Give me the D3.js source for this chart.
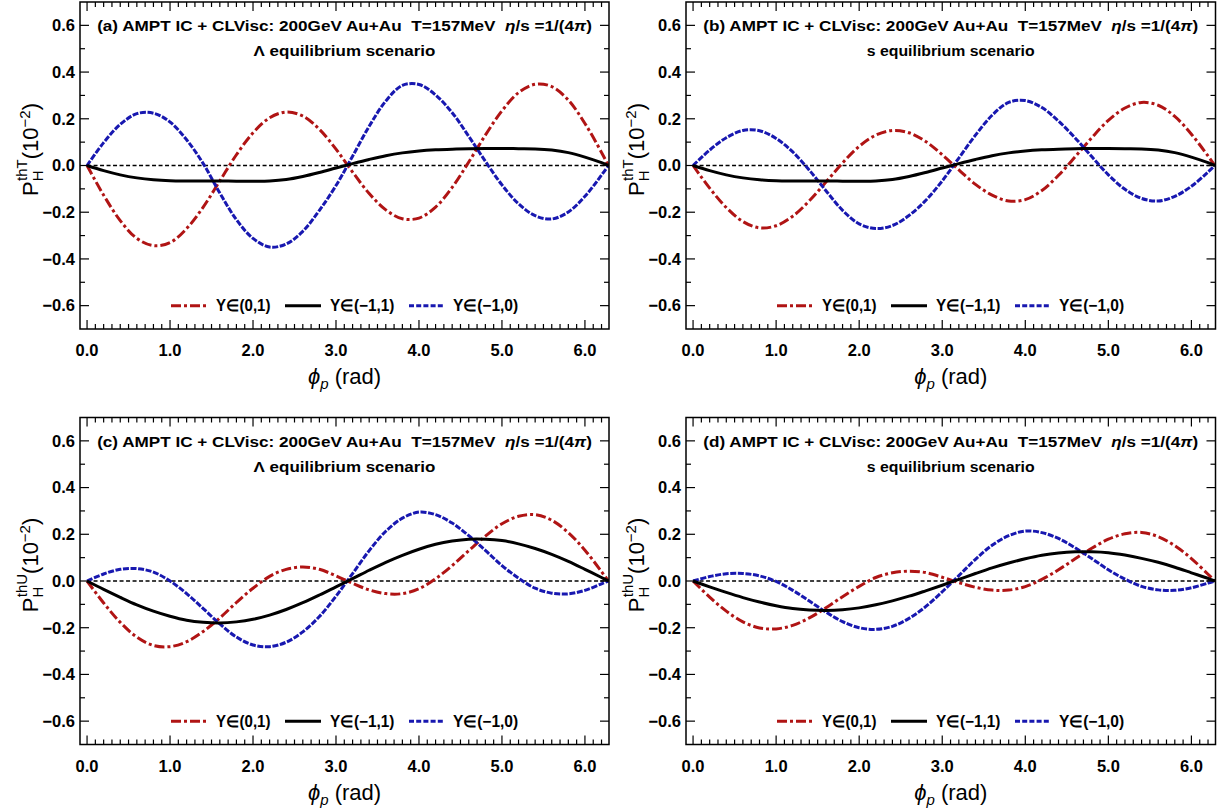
<!DOCTYPE html>
<html><head><meta charset="utf-8">
<script src="https://cdn.jsdelivr.net/npm/d3@7"></script>
<style>
body{margin:0;background:#fff;}
text{font-family:"Liberation Sans",Arial,sans-serif;}
</style></head>
<body><svg id="c" width="1225" height="809"></svg>
<script>
// ---------- data ----------
const phiGrid = [0,0.2,0.4,0.6,0.8,1.0,1.2,1.4,1.6,1.8,2.0,2.2,2.4,2.6,2.8,3.0,3.2,3.4,3.6,3.8,4.0,4.2,4.4,4.6,4.8,5.0,5.2,5.4,5.6,5.8,6.0,6.2,6.283];

// (a) thT, Lambda equilibrium
const aRed   = [0,-0.127,-0.236,-0.312,-0.343,-0.330,-0.270,-0.178,-0.066,0.046,0.140,0.204,0.229,0.212,0.155,0.070,-0.028,-0.120,-0.190,-0.228,-0.225,-0.178,-0.094,0.015,0.130,0.234,0.312,0.348,0.338,0.280,0.180,0.056,0];
const aBlack = [0,-0.022,-0.040,-0.053,-0.061,-0.065,-0.066,-0.066,-0.066,-0.067,-0.067,-0.066,-0.060,-0.047,-0.030,-0.011,0.008,0.026,0.042,0.054,0.062,0.067,0.070,0.072,0.073,0.073,0.072,0.071,0.066,0.055,0.036,0.012,0];
const aBlue  = [0,0.098,0.176,0.222,0.224,0.186,0.110,0.008,-0.118,-0.232,-0.312,-0.349,-0.336,-0.282,-0.192,-0.086,0.040,0.168,0.276,0.343,0.347,0.302,0.226,0.125,0.018,-0.083,-0.164,-0.215,-0.229,-0.199,-0.132,-0.041,0];

// (b) thT, s equilibrium
const bRed   = [0,-0.097,-0.180,-0.240,-0.267,-0.258,-0.217,-0.151,-0.071,0.011,0.082,0.130,0.150,0.140,0.103,0.046,-0.019,-0.081,-0.127,-0.152,-0.146,-0.107,-0.042,0.037,0.119,0.193,0.246,0.270,0.258,0.210,0.134,0.041,0];
const bBlack = [0,-0.022,-0.040,-0.053,-0.061,-0.065,-0.066,-0.066,-0.066,-0.067,-0.067,-0.066,-0.060,-0.047,-0.030,-0.011,0.008,0.026,0.042,0.054,0.062,0.067,0.070,0.072,0.073,0.073,0.072,0.071,0.066,0.055,0.036,0.012,0];
const bBlue  = [0,0.066,0.119,0.150,0.149,0.116,0.058,-0.020,-0.108,-0.192,-0.250,-0.270,-0.257,-0.214,-0.150,-0.066,0.032,0.130,0.215,0.270,0.278,0.248,0.190,0.118,0.038,-0.040,-0.102,-0.141,-0.152,-0.132,-0.089,-0.028,0];

// (c) thU, Lambda equilibrium
const cRed   = [0,-0.094,-0.177,-0.240,-0.276,-0.281,-0.260,-0.216,-0.158,-0.092,-0.031,0.020,0.050,0.060,0.050,0.022,-0.010,-0.038,-0.054,-0.054,-0.033,0.010,0.066,0.130,0.192,0.245,0.277,0.284,0.260,0.207,0.132,0.040,0];
const cBlack = [0,-0.036,-0.070,-0.102,-0.129,-0.151,-0.168,-0.177,-0.180,-0.175,-0.164,-0.146,-0.122,-0.093,-0.060,-0.025,0.010,0.046,0.080,0.110,0.136,0.157,0.171,0.179,0.179,0.173,0.159,0.139,0.114,0.084,0.050,0.015,0];
const cBlue  = [0,0.030,0.050,0.053,0.038,0.000,-0.054,-0.118,-0.184,-0.240,-0.274,-0.281,-0.262,-0.218,-0.152,-0.065,0.032,0.130,0.213,0.269,0.295,0.284,0.248,0.194,0.131,0.066,0.012,-0.031,-0.052,-0.055,-0.040,-0.012,0];

// (d) thU, s equilibrium
const dRed   = [0,-0.069,-0.129,-0.175,-0.201,-0.205,-0.190,-0.158,-0.115,-0.067,-0.023,0.015,0.035,0.042,0.036,0.016,-0.007,-0.027,-0.039,-0.039,-0.024,0.007,0.048,0.095,0.140,0.179,0.202,0.208,0.190,0.151,0.096,0.029,0];
const dBlack = [0,-0.025,-0.049,-0.071,-0.090,-0.106,-0.118,-0.124,-0.126,-0.123,-0.115,-0.102,-0.085,-0.065,-0.042,-0.018,0.007,0.032,0.056,0.077,0.095,0.110,0.120,0.125,0.125,0.121,0.111,0.097,0.080,0.059,0.035,0.011,0];
const dBlue  = [0,0.019,0.031,0.032,0.022,-0.002,-0.040,-0.086,-0.133,-0.174,-0.200,-0.207,-0.194,-0.160,-0.110,-0.046,0.023,0.093,0.153,0.194,0.214,0.207,0.182,0.142,0.096,0.048,0.008,-0.023,-0.038,-0.040,-0.029,-0.009,0];

const xTickValues = [0,1,2,3,4,5,6];
const xTickLabels = ["0.0","1.0","2.0","3.0","4.0","5.0","6.0"];
const yTickValues = [0.6,0.4,0.2,0,-0.2,-0.4,-0.6];
const yTickLabels = ["0.6","0.4","0.2","0.0","\u22120.2","\u22120.4","\u22120.6"];
const legendLabels = ["Y\u2208(0,1)","Y\u2208(\u22121,1)","Y\u2208(\u22121,0)"];
const panelTags = ["(a)","(b)","(c)","(d)"];
const scenarioLabels = ["\u039b equilibrium scenario","s equilibrium scenario","\u039b equilibrium scenario","s equilibrium scenario"];
const yLabelSup = ["thT","thT","thU","thU"];
const seriesByPanel = [[aRed,aBlack,aBlue],[bRed,bBlack,bBlue],[cRed,cBlack,cBlue],[dRed,dBlack,dBlue]];

// ---------- styles / layout ----------
const seriesStyle = [
  {color:"#b01414", width:3, dash:"10,3,3,3"},
  {color:"#000000", width:3, dash:null},
  {color:"#1818b0", width:3, dash:"6,1.6"}
];
const panels = [
  {left:80, right:609, top:2, bottom:329},
  {left:686, right:1215.5, top:2, bottom:329},
  {left:80, right:609, top:417.5, bottom:744.5},
  {left:686, right:1215.5, top:417.5, bottom:744.5}
];

const svg = d3.select("#c");

function fitX(sel, cx, cy, target){
  const w = sel.node().getComputedTextLength();
  const s = target / w;
  sel.attr("transform", `translate(${cx},${cy}) scale(${s},1)`);
}

panels.forEach((p, pi) => {
  const g = svg.append("g");
  const x = d3.scaleLinear().domain([-0.085, 6.29]).range([p.left, p.right]);
  const y = d3.scaleLinear().domain([-0.7, 0.7]).range([p.bottom, p.top]);
  const cx = (p.left + p.right) / 2;

  const clipId = "clip" + pi;
  svg.append("clipPath").attr("id", clipId).append("rect")
    .attr("x", p.left).attr("y", p.top).attr("width", p.right - p.left).attr("height", p.bottom - p.top);

  // zero line
  g.append("line").attr("x1", x(0)).attr("x2", x(6.283)).attr("y1", y(0)).attr("y2", y(0))
    .attr("stroke", "#000").attr("stroke-width", 1.5).attr("stroke-dasharray", "4,2.5");

  // curves
  const line = d3.line().x((d, i) => x(phiGrid[i])).y(d => y(d)).curve(d3.curveCatmullRom.alpha(0.5));
  const data = seriesByPanel[pi];
  [0, 2, 1].forEach(si => {
    const st = seriesStyle[si];
    const path = g.append("path").attr("d", line(data[si])).attr("fill", "none")
      .attr("stroke", st.color).attr("stroke-width", st.width).attr("clip-path", `url(#${clipId})`)
      .attr("stroke-linejoin", "round");
    if (st.dash) path.attr("stroke-dasharray", st.dash);
  });

  // frame
  g.append("rect").attr("x", p.left).attr("y", p.top).attr("width", p.right - p.left).attr("height", p.bottom - p.top)
    .attr("fill", "none").attr("stroke", "#000").attr("stroke-width", 1.5);

  // ticks
  const minorX = d3.range(1, 63).map(k => k / 10).filter(v => Math.abs(v - Math.round(v)) > 1e-6);
  const ticks = g.append("g").attr("stroke", "#000").attr("stroke-width", 1.2);
  xTickValues.forEach(v => {
    ticks.append("line").attr("x1", x(v)).attr("x2", x(v)).attr("y1", p.bottom).attr("y2", p.bottom - 9);
    ticks.append("line").attr("x1", x(v)).attr("x2", x(v)).attr("y1", p.top).attr("y2", p.top + 9);
  });
  minorX.forEach(v => {
    ticks.append("line").attr("x1", x(v)).attr("x2", x(v)).attr("y1", p.bottom).attr("y2", p.bottom - 5);
    ticks.append("line").attr("x1", x(v)).attr("x2", x(v)).attr("y1", p.top).attr("y2", p.top + 5);
  });
  yTickValues.forEach(v => {
    ticks.append("line").attr("x1", p.left).attr("x2", p.left + 9).attr("y1", y(v)).attr("y2", y(v));
    ticks.append("line").attr("x1", p.right).attr("x2", p.right - 9).attr("y1", y(v)).attr("y2", y(v));
  });
  [-0.5, -0.3, -0.1, 0.1, 0.3, 0.5].forEach(v => {
    ticks.append("line").attr("x1", p.left).attr("x2", p.left + 5).attr("y1", y(v)).attr("y2", y(v));
    ticks.append("line").attr("x1", p.right).attr("x2", p.right - 5).attr("y1", y(v)).attr("y2", y(v));
  });

  // tick labels
  xTickValues.forEach((v, i) => {
    g.append("text").attr("x", x(v)).attr("y", p.bottom + 27).attr("text-anchor", "middle")
      .attr("font-size", 16.5).attr("font-weight", "bold").text(xTickLabels[i]);
  });
  yTickValues.forEach((v, i) => {
    g.append("text").attr("x", p.left - 5).attr("y", y(v) + 5.8).attr("text-anchor", "end")
      .attr("font-size", 16.5).attr("font-weight", "bold").text(yTickLabels[i]);
  });

  // titles
  const t1 = g.append("text").attr("text-anchor", "middle").attr("font-size", 15).attr("font-weight", "bold");
  t1.append("tspan").text(panelTags[pi] + " AMPT IC + CLVisc: 200GeV Au+Au\u00a0\u00a0T=157MeV\u00a0\u00a0");
  t1.append("tspan").attr("font-style", "italic").text("\u03b7");
  t1.append("tspan").text("/s =1/(4");
  t1.append("tspan").attr("font-style", "italic").text("\u03c0");
  t1.append("tspan").text(")");
  fitX(t1, cx, p.top + 29, 495);

  const t2 = g.append("text").attr("text-anchor", "middle").attr("font-size", 15).attr("font-weight", "bold")
    .text(scenarioLabels[pi]);
  fitX(t2, cx, p.top + 54, scenarioLabels[pi].startsWith("s") ? 168 : 182);

  // legend
  const ly = y(-0.6);
  const legX = [[91, 127, 136, 54], [205, 241, 250, 64], [329, 365, 373, 65]];
  legX.forEach((lx, si) => {
    const st = seriesStyle[si];
    const ln = g.append("line").attr("x1", p.left + lx[0]).attr("x2", p.left + lx[1]).attr("y1", ly).attr("y2", ly)
      .attr("stroke", st.color).attr("stroke-width", st.width);
    if (st.dash) ln.attr("stroke-dasharray", si === 2 ? "5,2.2" : st.dash);
    const tx = g.append("text").attr("font-size", 16).attr("font-weight", "bold").text(legendLabels[si]);
    const w = tx.node().getComputedTextLength();
    tx.attr("transform", `translate(${p.left + lx[2]},${ly + 5.8}) scale(${lx[3] / w},1)`);
  });

  // x axis title
  const xt = g.append("text").attr("x", cx).attr("y", p.bottom + 55).attr("text-anchor", "middle").attr("font-size", 22);
  xt.append("tspan").attr("font-style", "italic").text("\u03d5");
  xt.append("tspan").attr("font-style", "italic").attr("font-size", 15).attr("dy", 5).text("p");
  xt.append("tspan").attr("dy", -5).text(" (rad)");

  // y axis title
  const yt = g.append("text").attr("text-anchor", "middle").attr("font-size", 22)
    .attr("transform", `translate(${p.left - 42},${(p.top + p.bottom) / 2 - 16}) rotate(-90)`);
  yt.append("tspan").text("P");
  yt.append("tspan").attr("font-size", 15).attr("dy", 5).text("H");
  yt.append("tspan").attr("font-size", 15).attr("dx", -10.5).attr("dy", -16).text(yLabelSup[pi]);
  yt.append("tspan").attr("dy", 11).text("(10");
  yt.append("tspan").attr("font-size", 15).attr("dy", -8).text("\u22122");
  yt.append("tspan").attr("dy", 8).text(")");
});
</script>
</body></html>
